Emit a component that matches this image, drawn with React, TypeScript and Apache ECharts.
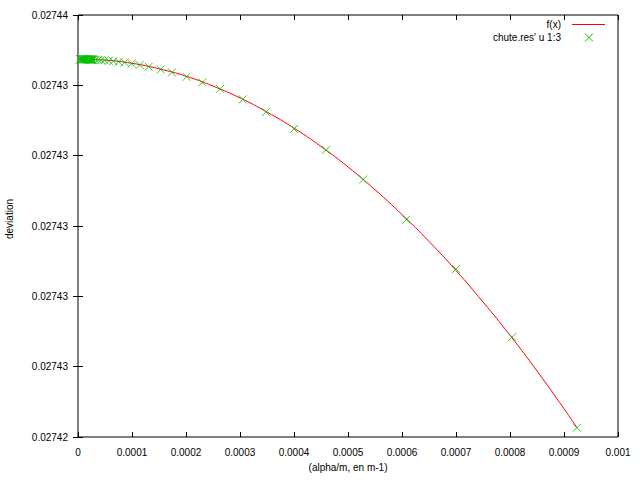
import React, { useEffect, useRef } from "react";
import * as echarts from "echarts";

// Measured points (chute.res' u 1:3)
const pointX = [
  0.000924, 0.000804, 0.0007, 0.000608, 0.000528, 0.000459, 0.0004, 0.000348,
  0.000305, 0.000263, 0.00023, 0.000201, 0.000174, 0.000153, 0.000131, 0.000114,
  0.0000994, 0.0000865, 0.0000753, 0.0000655, 0.000057, 0.0000495, 0.000043,
  0.0000375, 0.0000327, 0.0000284, 0.0000269, 0.000026, 0.000025, 0.0000241,
  0.0000232, 0.0000223, 0.0000213, 0.0000204, 0.0000195, 0.0000186, 0.0000176,
  0.0000167, 0.0000158, 0.0000148, 0.0000139, 0.000013, 0.0000121, 0.0000111,
  0.0000102, 0.0000093, 0.0000083, 0.0000074, 0.0000065, 0.0000056, 0.0000046,
  0.0000037,
];
const pointY = [
  0.02742044, 0.02742474, 0.02742796, 0.0274303, 0.0274322, 0.0274336, 0.0274346,
  0.0274354, 0.027436, 0.0274365, 0.0274368, 0.02743707, 0.02743728, 0.02743742,
  0.02743755, 0.02743763, 0.0274377, 0.02743775, 0.02743778, 0.02743781,
  0.02743783, 0.02743785, 0.02743786, 0.02743787, 0.02743788, 0.02743788,
  0.02743789, 0.02743789, 0.02743789, 0.02743789, 0.02743789, 0.02743789,
  0.02743789, 0.0274379, 0.0274379, 0.0274379, 0.0274379, 0.0274379, 0.0274379,
  0.0274379, 0.0274379, 0.0274379, 0.0274379, 0.0274379, 0.0274379, 0.0274379,
  0.0274379, 0.0274379, 0.0274379, 0.0274379, 0.0274379, 0.0274379,
];

// Fitted curve f(x)
const curveX = [
  0, 0.00005, 0.0001, 0.00015, 0.0002, 0.00025, 0.0003, 0.00035, 0.0004, 0.00045,
  0.0005, 0.00055, 0.0006, 0.00065, 0.0007, 0.00075, 0.0008, 0.00085, 0.0009,
  0.000924,
];
const curveY = [
  0.02743791, 0.02743786, 0.02743771, 0.02743745, 0.0274371, 0.02743663,
  0.02743607, 0.0274354, 0.02743464, 0.02743377, 0.0274328, 0.02743172,
  0.02743054, 0.02742927, 0.02742789, 0.0274264, 0.02742482, 0.02742313,
  0.02742134, 0.02742044,
];

const xTickLabels = [
  "0", "0.0001", "0.0002", "0.0003", "0.0004", "0.0005", "0.0006", "0.0007",
  "0.0008", "0.0009", "0.001",
];
const yTickLabels = [
  "0.02742", "0.02743", "0.02743", "0.02743", "0.02743", "0.02743", "0.02744",
];

const seriesNames = ["f(x)", "chute.res' u 1:3"];
const xName = "(alpha/m, en m-1)";
const yName = "deviation";

const FONT = "'Liberation Sans', Arial, sans-serif";
const RED = "#ff0000";
const GREEN = "#00c000";

export default function App() {
  const ref = useRef<HTMLDivElement>(null);

  useEffect(() => {
    if (!ref.current) return;
    const chart = echarts.init(ref.current, undefined, { renderer: "svg" });
    const yMin = 0.02742;
    const yMax = 0.02744;
    const yInt = (yMax - yMin) / 6;
    const tick = { inside: true, length: 5, lineStyle: { color: "#000", width: 1 } };
    const label = { color: "#000", fontSize: 10, fontFamily: FONT };

    chart.setOption({
      animation: false,
      backgroundColor: "#fff",
      grid: {
        left: 78,
        right: 22,
        top: 15,
        bottom: 43,
        show: true,
        borderColor: "#000",
        borderWidth: 1,
      },
      xAxis: [
        {
          type: "value",
          min: 0,
          max: 0.001,
          interval: 0.0001,
          position: "bottom",
          splitLine: { show: false },
          axisLine: { show: false },
          axisTick: tick,
          axisLabel: {
            ...label,
            margin: 10,
            formatter: (_v: number, i: number) => xTickLabels[i] ?? "",
          },
          name: xName,
          nameLocation: "middle",
          nameGap: 25,
          nameTextStyle: { ...label },
        },
        {
          type: "value",
          min: 0,
          max: 0.001,
          interval: 0.0001,
          position: "top",
          splitLine: { show: false },
          axisLine: { show: false },
          axisTick: tick,
          axisLabel: { show: false },
        },
      ],
      yAxis: [
        {
          type: "value",
          min: yMin,
          max: yMax,
          interval: yInt,
          position: "left",
          splitLine: { show: false },
          axisLine: { show: false },
          axisTick: tick,
          axisLabel: {
            ...label,
            margin: 10,
            formatter: (_v: number, i: number) => yTickLabels[i] ?? "",
          },
        },
        {
          type: "value",
          min: yMin,
          max: yMax,
          interval: yInt,
          position: "right",
          splitLine: { show: false },
          axisLine: { show: false },
          axisTick: tick,
          axisLabel: { show: false },
        },
      ],
      series: [
        {
          name: seriesNames[0],
          type: "line",
          xAxisIndex: 0,
          yAxisIndex: 0,
          data: curveX.map((x, i) => [x, curveY[i]]),
          showSymbol: false,
          symbol: "none",
          smooth: true,
          lineStyle: { color: RED, width: 1 },
          z: 2,
        },
        {
          name: seriesNames[1],
          type: "scatter",
          xAxisIndex: 0,
          yAxisIndex: 0,
          data: pointX.map((x, i) => [x, pointY[i]]),
          symbol: "path://M0,0L8,8M8,0L0,8",
          symbolSize: 8,
          itemStyle: { color: "none", borderColor: GREEN, borderWidth: 1 },
          z: 3,
        },
      ],
      graphic: [
        {
          type: "text",
          x: 9.5,
          y: 219,
          rotation: Math.PI / 2,
          style: {
            text: yName,
            fill: "#000",
            font: `10px ${FONT}`,
            align: "center",
            verticalAlign: "middle",
          },
        },
        {
          type: "text",
          x: 561,
          y: 24,
          style: {
            text: seriesNames[0],
            fill: "#000",
            font: `10px ${FONT}`,
            align: "right",
            verticalAlign: "middle",
          },
        },
        {
          type: "line",
          shape: { x1: 572, y1: 24.5, x2: 605, y2: 24.5 },
          style: { stroke: RED, lineWidth: 1 },
        },
        {
          type: "text",
          x: 561,
          y: 37.5,
          style: {
            text: seriesNames[1],
            fill: "#000",
            font: `10px ${FONT}`,
            align: "right",
            verticalAlign: "middle",
          },
        },
        {
          type: "line",
          shape: { x1: 585, y1: 33.5, x2: 593, y2: 41.5 },
          style: { stroke: GREEN, lineWidth: 1 },
        },
        {
          type: "line",
          shape: { x1: 593, y1: 33.5, x2: 585, y2: 41.5 },
          style: { stroke: GREEN, lineWidth: 1 },
        },
      ],
    });
    return () => chart.dispose();
  }, []);

  return <div ref={ref} style={{ width: 640, height: 480, position: "fixed", left: 0, top: 0 }} />;
}
